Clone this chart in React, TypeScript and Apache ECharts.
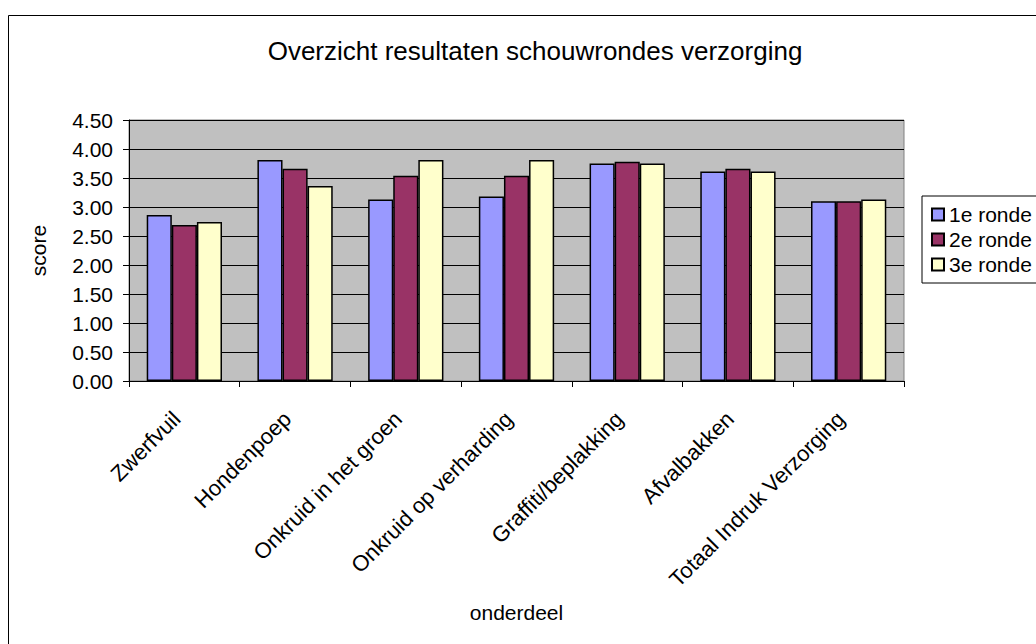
import React, { useEffect, useRef } from "react";
import * as echarts from "echarts";

const categories = [
  "Zwerfvuil",
  "Hondenpoep",
  "Onkruid in het groen",
  "Onkruid op verharding",
  "Graffiti/beplakking",
  "Afvalbakken",
  "Totaal Indruk Verzorging",
];
const ronde1 = [2.86, 3.81, 3.13, 3.18, 3.75, 3.61, 3.1];
const ronde2 = [2.69, 3.66, 3.54, 3.54, 3.78, 3.66, 3.1];
const ronde3 = [2.74, 3.36, 3.81, 3.81, 3.75, 3.61, 3.13];
const seriesNames = ["1e ronde", "2e ronde", "3e ronde"];
const seriesColors = ["#9999FF", "#993366", "#FFFFCC"];

const FONT = "Liberation Sans, Arial, sans-serif";

export default function App() {
  const ref = useRef<HTMLDivElement>(null);
  useEffect(() => {
    document.body.style.margin = "0";
    if (!ref.current) return;
    const chart = echarts.init(ref.current, null, { renderer: "svg" });
    const data = [ronde1, ronde2, ronde3];
    chart.setOption({
      animation: false,
      backgroundColor: "#ffffff",
      textStyle: { fontFamily: FONT },
      title: {
        text: "Overzicht resultaten schouwrondes verzorging",
        left: 530,
        top: 33,
        textAlign: "center",
        textStyle: { fontFamily: FONT, fontSize: 26, fontWeight: "normal", color: "#000" },
      },
      graphic: [
        {
          type: "rect",
          shape: { x: 8.5, y: 15.5, width: 1200, height: 800 },
          style: { fill: "none", stroke: "#000", lineWidth: 1 },
          silent: true,
        },
      ],
      legend: {
        orient: "vertical",
        left: 922,
        top: 196,
        padding: [8, 40, 8, 9],
        itemGap: 4,
        itemWidth: 12,
        itemHeight: 12,
        borderColor: "#000",
        borderWidth: 1,
        backgroundColor: "#fff",
        icon: "rect",
        textStyle: { fontFamily: FONT, fontSize: 21, color: "#000" },
        data: seriesNames,
      },
      grid: {
        left: 129,
        right: 132,
        top: 120,
        bottom: 263,
        show: true,
        backgroundColor: "#C0C0C0",
        borderColor: "#808080",
        borderWidth: 1,
      },
      xAxis: {
        type: "category",
        data: categories,
        name: "onderdeel",
        nameLocation: "middle",
        nameGap: 221,
        nameTextStyle: { fontFamily: FONT, fontSize: 21, color: "#000" },
        axisLine: { lineStyle: { color: "#000", width: 1 } },
        axisTick: { show: true, length: 6, lineStyle: { color: "#000" } },
        axisLabel: {
          rotate: 45,
          margin: 42,
          align: "right",
          verticalAlign: "bottom",
          fontFamily: FONT,
          fontSize: 22,
          color: "#000",
          interval: 0,
        },
      },
      yAxis: {
        type: "value",
        min: 0,
        max: 4.5,
        interval: 0.5,
        name: "score",
        nameLocation: "middle",
        nameGap: 80,
        nameRotate: 90,
        nameTextStyle: { fontFamily: FONT, fontSize: 21, color: "#000" },
        axisLine: { show: true, lineStyle: { color: "#000", width: 1 } },
        axisTick: { show: true, length: 6, lineStyle: { color: "#000" } },
        splitLine: { show: true, lineStyle: { color: "#000", width: 1 } },
        axisLabel: {
          margin: 16,
          fontFamily: FONT,
          fontSize: 21,
          color: "#000",
          formatter: (v: number) => v.toFixed(2),
        },
      },
      series: seriesNames.map((name, i) => ({
        name,
        type: "bar",
        data: data[i],
        barGap: "0%",
        barCategoryGap: "32%",
        itemStyle: { color: seriesColors[i], borderColor: "#000", borderWidth: 1.5 },
      })),
    });
    return () => chart.dispose();
  }, []);
  return <div ref={ref} style={{ width: 1036, height: 644 }} />;
}
